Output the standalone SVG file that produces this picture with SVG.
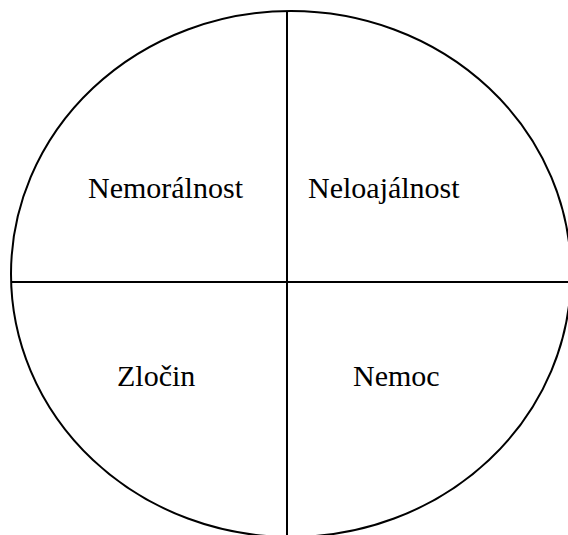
<svg xmlns="http://www.w3.org/2000/svg" width="568" height="535" viewBox="0 0 568 535">
<style>
.shape{fill:none;stroke:#000;stroke-width:2}
.lbl{font-family:"Liberation Serif","Times New Roman",serif;font-size:30px;fill:#000}
</style>
<rect width="568" height="535" fill="#fff"/>
<g id="outline"><ellipse class="shape" cx="291" cy="274" rx="280" ry="263"/></g>
<g id="connectors">
<line class="shape" x1="287" y1="11" x2="287" y2="535"/>
<line class="shape" x1="12" y1="282" x2="568" y2="282"/>
</g>
<g id="n1"><text class="lbl" x="88" y="198">Nemorálnost</text></g>
<g id="n2"><text class="lbl" x="308" y="198">Neloajálnost</text></g>
<g id="n3"><text class="lbl" x="117" y="386">Zločin</text></g>
<g id="n4"><text class="lbl" x="353" y="386">Nemoc</text></g>
</svg>
